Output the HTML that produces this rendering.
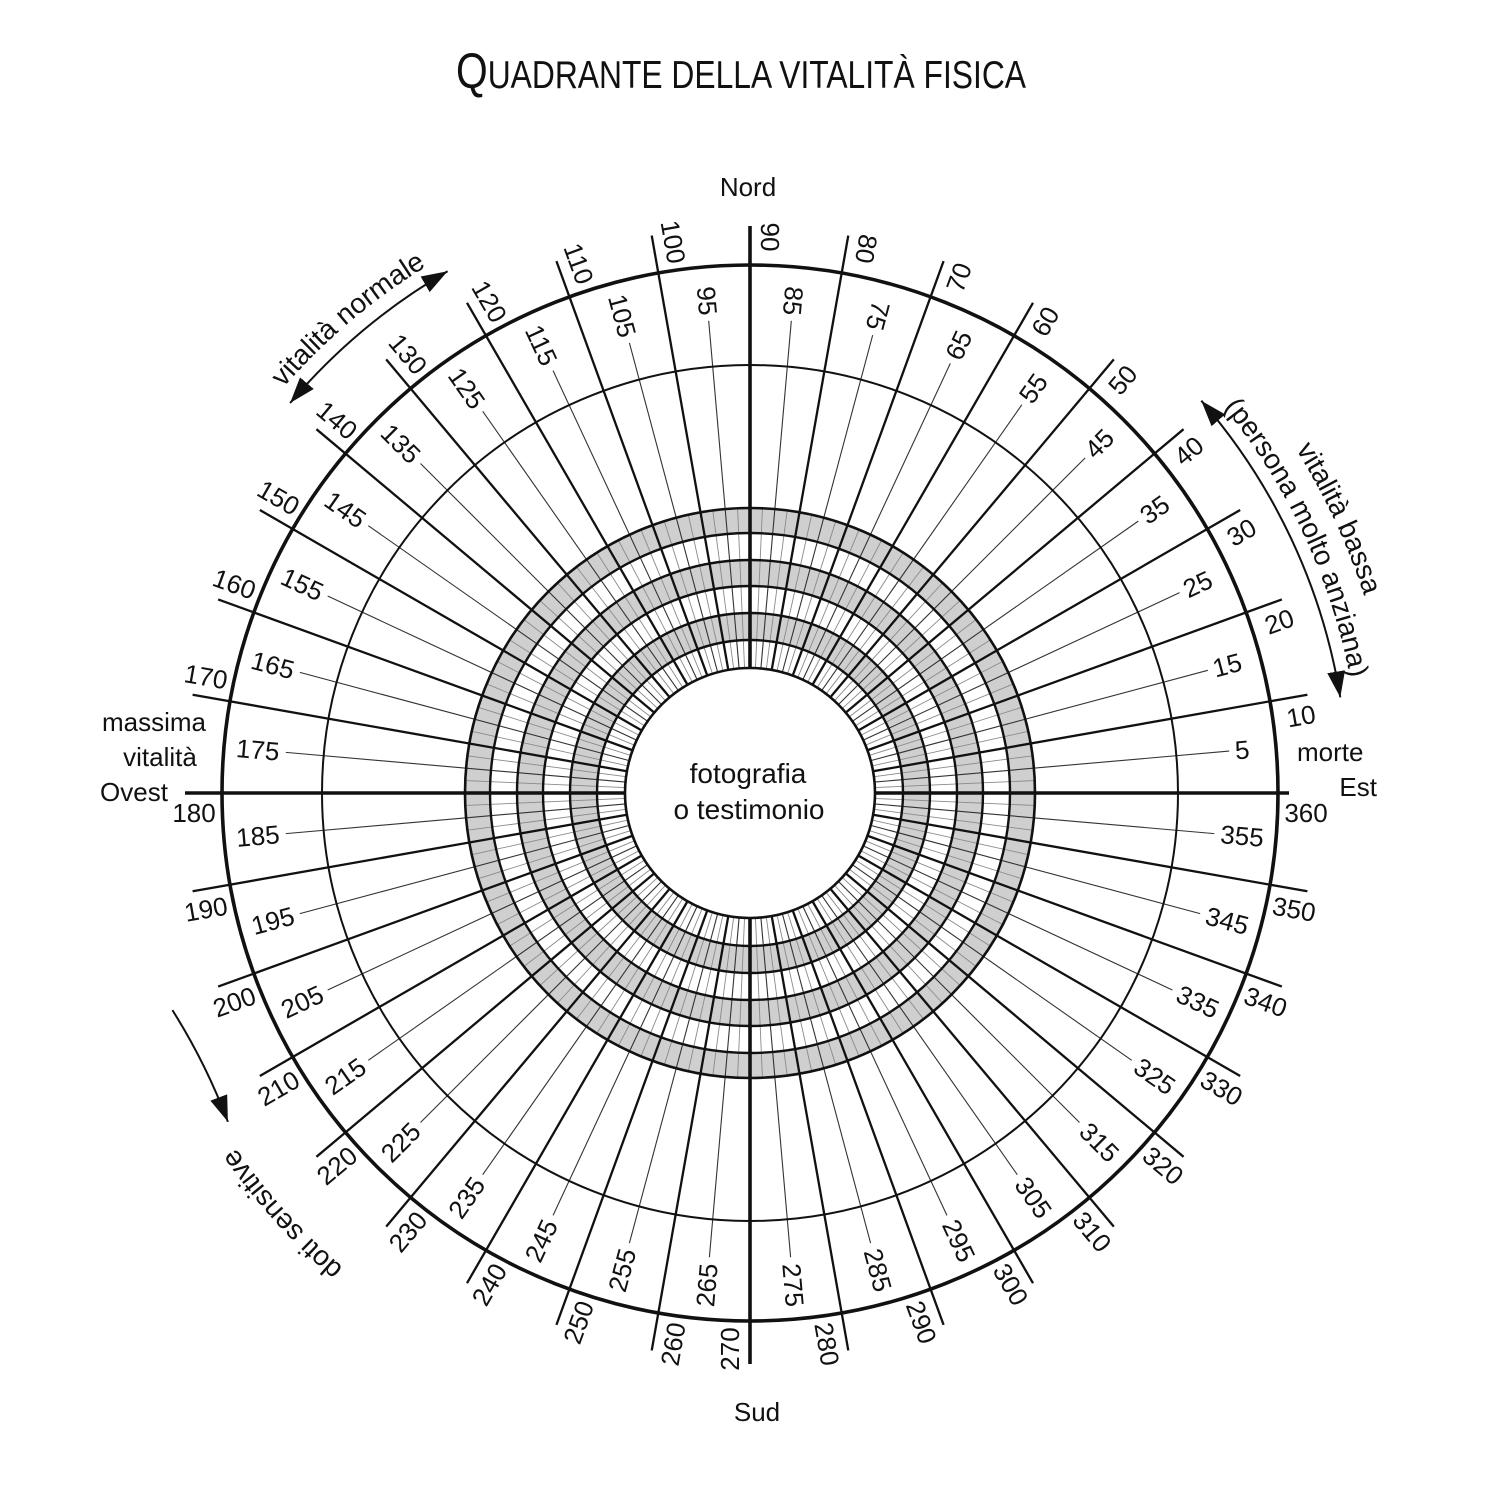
<!DOCTYPE html>
<html><head><meta charset="utf-8"><style>
html,body{margin:0;padding:0;background:#fff;}
svg{display:block;}
text{font-family:"Liberation Sans",Arial,sans-serif;fill:#111;}
.n text{font-size:26px;text-anchor:middle;dominant-baseline:central;}
</style></head><body>
<svg width="1485" height="1485" viewBox="0 0 1485 1485" xmlns="http://www.w3.org/2000/svg">
<defs>
<line id="G" x1="875" y1="793" x2="1035" y2="793" stroke="#8a8a8a" stroke-width="0.9"/>
<line id="T" x1="875" y1="793" x2="1316" y2="793" stroke="#111" stroke-width="2.3"/>
<line id="t1" x1="875" y1="793" x2="1231" y2="793" stroke="#333" stroke-width="1.1"/>
<line id="t2" x1="875" y1="793" x2="1224" y2="793" stroke="#333" stroke-width="1.1"/>
<line id="t3" x1="875" y1="793" x2="1216" y2="793" stroke="#333" stroke-width="1.1"/>
<marker id="ah" markerUnits="userSpaceOnUse" markerWidth="28" markerHeight="20" refX="26" refY="9" orient="auto-start-reverse"><path d="M0,0 L26,9 L0,18 z" fill="#111"/></marker>
<path id="pPers" d="M1008.2 239.3 A611 611 0 0 1 1340.2 951.1"/>
<path id="pBas" d="M1022.6 208.4 A645 645 0 0 1 1373.0 959.9"/>
<path id="pNorm" d="M140.8 688.9 A618 618 0 0 1 746.8 175.0"/>
<path id="pDoti" d="M663.0 1411.9 A625 625 0 0 1 125.4 814.8"/>
</defs>

<text x="456" y="88" font-size="39" textLength="570" lengthAdjust="spacingAndGlyphs"><tspan font-size="50">Q</tspan>UADRANTE DELLA VITALITÀ FISICA</text>

<circle cx="750" cy="793" r="272.5" fill="none" stroke="#cfcfcf" stroke-width="25"/>
<circle cx="750" cy="793" r="220" fill="none" stroke="#cfcfcf" stroke-width="26"/>
<circle cx="750" cy="793" r="166.5" fill="none" stroke="#cfcfcf" stroke-width="27"/>

<g>
<use href="#G" transform="rotate(-2.5 750 793)"/><use href="#G" transform="rotate(-7.5 750 793)"/><use href="#G" transform="rotate(-12.5 750 793)"/><use href="#G" transform="rotate(-17.5 750 793)"/><use href="#G" transform="rotate(-22.5 750 793)"/><use href="#G" transform="rotate(-27.5 750 793)"/><use href="#G" transform="rotate(-32.5 750 793)"/><use href="#G" transform="rotate(-37.5 750 793)"/><use href="#G" transform="rotate(-42.5 750 793)"/><use href="#G" transform="rotate(-47.5 750 793)"/><use href="#G" transform="rotate(-52.5 750 793)"/><use href="#G" transform="rotate(-57.5 750 793)"/><use href="#G" transform="rotate(-62.5 750 793)"/><use href="#G" transform="rotate(-67.5 750 793)"/><use href="#G" transform="rotate(-72.5 750 793)"/><use href="#G" transform="rotate(-77.5 750 793)"/><use href="#G" transform="rotate(-82.5 750 793)"/><use href="#G" transform="rotate(-87.5 750 793)"/><use href="#G" transform="rotate(-92.5 750 793)"/><use href="#G" transform="rotate(-97.5 750 793)"/><use href="#G" transform="rotate(-102.5 750 793)"/><use href="#G" transform="rotate(-107.5 750 793)"/><use href="#G" transform="rotate(-112.5 750 793)"/><use href="#G" transform="rotate(-117.5 750 793)"/><use href="#G" transform="rotate(-122.5 750 793)"/><use href="#G" transform="rotate(-127.5 750 793)"/><use href="#G" transform="rotate(-132.5 750 793)"/><use href="#G" transform="rotate(-137.5 750 793)"/><use href="#G" transform="rotate(-142.5 750 793)"/><use href="#G" transform="rotate(-147.5 750 793)"/><use href="#G" transform="rotate(-152.5 750 793)"/><use href="#G" transform="rotate(-157.5 750 793)"/><use href="#G" transform="rotate(-162.5 750 793)"/><use href="#G" transform="rotate(-167.5 750 793)"/><use href="#G" transform="rotate(-172.5 750 793)"/><use href="#G" transform="rotate(-177.5 750 793)"/><use href="#G" transform="rotate(-182.5 750 793)"/><use href="#G" transform="rotate(-187.5 750 793)"/><use href="#G" transform="rotate(-192.5 750 793)"/><use href="#G" transform="rotate(-197.5 750 793)"/><use href="#G" transform="rotate(-202.5 750 793)"/><use href="#G" transform="rotate(-207.5 750 793)"/><use href="#G" transform="rotate(-212.5 750 793)"/><use href="#G" transform="rotate(-217.5 750 793)"/><use href="#G" transform="rotate(-222.5 750 793)"/><use href="#G" transform="rotate(-227.5 750 793)"/><use href="#G" transform="rotate(-232.5 750 793)"/><use href="#G" transform="rotate(-237.5 750 793)"/><use href="#G" transform="rotate(-242.5 750 793)"/><use href="#G" transform="rotate(-247.5 750 793)"/><use href="#G" transform="rotate(-252.5 750 793)"/><use href="#G" transform="rotate(-257.5 750 793)"/><use href="#G" transform="rotate(-262.5 750 793)"/><use href="#G" transform="rotate(-267.5 750 793)"/><use href="#G" transform="rotate(-272.5 750 793)"/><use href="#G" transform="rotate(-277.5 750 793)"/><use href="#G" transform="rotate(-282.5 750 793)"/><use href="#G" transform="rotate(-287.5 750 793)"/><use href="#G" transform="rotate(-292.5 750 793)"/><use href="#G" transform="rotate(-297.5 750 793)"/><use href="#G" transform="rotate(-302.5 750 793)"/><use href="#G" transform="rotate(-307.5 750 793)"/><use href="#G" transform="rotate(-312.5 750 793)"/><use href="#G" transform="rotate(-317.5 750 793)"/><use href="#G" transform="rotate(-322.5 750 793)"/><use href="#G" transform="rotate(-327.5 750 793)"/><use href="#G" transform="rotate(-332.5 750 793)"/><use href="#G" transform="rotate(-337.5 750 793)"/><use href="#G" transform="rotate(-342.5 750 793)"/><use href="#G" transform="rotate(-347.5 750 793)"/><use href="#G" transform="rotate(-352.5 750 793)"/><use href="#G" transform="rotate(-357.5 750 793)"/>
</g>

<g>
<use href="#t1" transform="rotate(-5 750 793)"/>
<use href="#t2" transform="rotate(-15 750 793)"/><use href="#t2" transform="rotate(-25 750 793)"/><use href="#t2" transform="rotate(-35 750 793)"/><use href="#t2" transform="rotate(-45 750 793)"/><use href="#t2" transform="rotate(-55 750 793)"/><use href="#t2" transform="rotate(-65 750 793)"/><use href="#t2" transform="rotate(-75 750 793)"/><use href="#t2" transform="rotate(-85 750 793)"/><use href="#t2" transform="rotate(-95 750 793)"/>
<use href="#t3" transform="rotate(-105 750 793)"/><use href="#t3" transform="rotate(-115 750 793)"/><use href="#t3" transform="rotate(-125 750 793)"/><use href="#t3" transform="rotate(-135 750 793)"/><use href="#t3" transform="rotate(-145 750 793)"/><use href="#t3" transform="rotate(-155 750 793)"/><use href="#t3" transform="rotate(-165 750 793)"/><use href="#t3" transform="rotate(-175 750 793)"/><use href="#t3" transform="rotate(-185 750 793)"/><use href="#t3" transform="rotate(-195 750 793)"/><use href="#t3" transform="rotate(-205 750 793)"/><use href="#t3" transform="rotate(-215 750 793)"/><use href="#t3" transform="rotate(-225 750 793)"/><use href="#t3" transform="rotate(-235 750 793)"/><use href="#t3" transform="rotate(-245 750 793)"/><use href="#t3" transform="rotate(-255 750 793)"/><use href="#t3" transform="rotate(-265 750 793)"/><use href="#t3" transform="rotate(-275 750 793)"/><use href="#t3" transform="rotate(-285 750 793)"/><use href="#t3" transform="rotate(-295 750 793)"/><use href="#t3" transform="rotate(-305 750 793)"/><use href="#t3" transform="rotate(-315 750 793)"/><use href="#t3" transform="rotate(-325 750 793)"/><use href="#t3" transform="rotate(-335 750 793)"/><use href="#t3" transform="rotate(-345 750 793)"/><use href="#t3" transform="rotate(-355 750 793)"/>
</g>

<g>
<use href="#T" transform="rotate(-10 750 793)"/><use href="#T" transform="rotate(-20 750 793)"/><use href="#T" transform="rotate(-30 750 793)"/><use href="#T" transform="rotate(-40 750 793)"/><use href="#T" transform="rotate(-50 750 793)"/><use href="#T" transform="rotate(-60 750 793)"/><use href="#T" transform="rotate(-70 750 793)"/><use href="#T" transform="rotate(-80 750 793)"/><use href="#T" transform="rotate(-100 750 793)"/><use href="#T" transform="rotate(-110 750 793)"/><use href="#T" transform="rotate(-120 750 793)"/><use href="#T" transform="rotate(-130 750 793)"/><use href="#T" transform="rotate(-140 750 793)"/><use href="#T" transform="rotate(-150 750 793)"/><use href="#T" transform="rotate(-160 750 793)"/><use href="#T" transform="rotate(-170 750 793)"/><use href="#T" transform="rotate(-190 750 793)"/><use href="#T" transform="rotate(-200 750 793)"/><use href="#T" transform="rotate(-210 750 793)"/><use href="#T" transform="rotate(-220 750 793)"/><use href="#T" transform="rotate(-230 750 793)"/><use href="#T" transform="rotate(-240 750 793)"/><use href="#T" transform="rotate(-250 750 793)"/><use href="#T" transform="rotate(-260 750 793)"/><use href="#T" transform="rotate(-280 750 793)"/><use href="#T" transform="rotate(-290 750 793)"/><use href="#T" transform="rotate(-300 750 793)"/><use href="#T" transform="rotate(-310 750 793)"/><use href="#T" transform="rotate(-320 750 793)"/><use href="#T" transform="rotate(-330 750 793)"/><use href="#T" transform="rotate(-340 750 793)"/><use href="#T" transform="rotate(-350 750 793)"/>
</g>
<g stroke="#111" stroke-width="3.6">
<line x1="875" y1="793" x2="1289" y2="793"/>
<line x1="625" y1="793" x2="185" y2="793"/>
<line x1="750" y1="668" x2="750" y2="226"/>
<line x1="750" y1="918" x2="750" y2="1364"/>
</g>

<g fill="none" stroke="#111">
<circle cx="750" cy="793" r="528" stroke-width="3.6"/>
<circle cx="750" cy="793" r="428" stroke-width="2"/>
<circle cx="750" cy="793" r="285" stroke-width="2.6"/>
<circle cx="750" cy="793" r="260" stroke-width="2.4"/>
<circle cx="750" cy="793" r="233" stroke-width="2.4"/>
<circle cx="750" cy="793" r="207" stroke-width="2.4"/>
<circle cx="750" cy="793" r="180" stroke-width="2.4"/>
<circle cx="750" cy="793" r="153" stroke-width="2.4"/>
</g>
<circle cx="750" cy="793" r="125" fill="#fff" stroke="#111" stroke-width="2.6"/>

<text x="748" y="783" font-size="28" text-anchor="middle">fotografia</text>
<text x="749" y="819" font-size="28" text-anchor="middle">o testimonio</text>

<g class="n">
<text transform="rotate(0 750 793) translate(1306 813)">360</text>
<text transform="rotate(-10 750 793) translate(1306 813)">10</text>
<text transform="rotate(-20 750 793) translate(1306 813)">20</text>
<text transform="rotate(-30 750 793) translate(1306 813)">30</text>
<text transform="rotate(-40 750 793) translate(1306 813)">40</text>
<text transform="rotate(-50 750 793) translate(1306 813)">50</text>
<text transform="rotate(-60 750 793) translate(1306 813)">60</text>
<text transform="rotate(-70 750 793) translate(1306 813)">70</text>
<text transform="rotate(-80 750 793) translate(1306 813) rotate(180)">80</text>
<text transform="rotate(-90 750 793) translate(1306 813) rotate(180)">90</text>
<text transform="rotate(-100 750 793) translate(1306 813) rotate(180)">100</text>
<text transform="rotate(-110 750 793) translate(1306 813) rotate(180)">110</text>
<text transform="rotate(-120 750 793) translate(1306 813) rotate(180)">120</text>
<text transform="rotate(-130 750 793) translate(1306 813) rotate(180)">130</text>
<text transform="rotate(-140 750 793) translate(1306 813) rotate(180)">140</text>
<text transform="rotate(-150 750 793) translate(1306 813) rotate(180)">150</text>
<text transform="rotate(-160 750 793) translate(1306 813) rotate(180)">160</text>
<text transform="rotate(-170 750 793) translate(1306 813) rotate(180)">170</text>
<text transform="rotate(-180 750 793) translate(1306 773) rotate(180)">180</text>
<text transform="rotate(-190 750 793) translate(1306 773) rotate(180)">190</text>
<text transform="rotate(-200 750 793) translate(1306 773) rotate(180)">200</text>
<text transform="rotate(-210 750 793) translate(1306 773) rotate(180)">210</text>
<text transform="rotate(-220 750 793) translate(1306 773) rotate(180)">220</text>
<text transform="rotate(-230 750 793) translate(1306 773) rotate(180)">230</text>
<text transform="rotate(-240 750 793) translate(1306 773) rotate(180)">240</text>
<text transform="rotate(-250 750 793) translate(1306 773) rotate(180)">250</text>
<text transform="rotate(-260 750 793) translate(1306 773) rotate(180)">260</text>
<text transform="rotate(-270 750 793) translate(1306 813) rotate(180)">270</text>
<text transform="rotate(-280 750 793) translate(1306 813)">280</text>
<text transform="rotate(-290 750 793) translate(1306 813)">290</text>
<text transform="rotate(-300 750 793) translate(1306 813)">300</text>
<text transform="rotate(-310 750 793) translate(1306 813)">310</text>
<text transform="rotate(-320 750 793) translate(1306 813)">320</text>
<text transform="rotate(-330 750 793) translate(1306 813)">330</text>
<text transform="rotate(-340 750 793) translate(1306 813)">340</text>
<text transform="rotate(-350 750 793) translate(1306 813)">350</text>
</g>

<g class="n">
<text transform="rotate(-5 750 793) translate(1244 793)">5</text>
<text transform="rotate(-15 750 793) translate(1244 793)">15</text>
<text transform="rotate(-25 750 793) translate(1244 793)">25</text>
<text transform="rotate(-35 750 793) translate(1244 793)">35</text>
<text transform="rotate(-45 750 793) translate(1244 793)">45</text>
<text transform="rotate(-55 750 793) translate(1244 793)">55</text>
<text transform="rotate(-65 750 793) translate(1244 793)">65</text>
<text transform="rotate(-75 750 793) translate(1244 793) rotate(180)">75</text>
<text transform="rotate(-85 750 793) translate(1244 793) rotate(180)">85</text>
<text transform="rotate(-95 750 793) translate(1244 793) rotate(180)">95</text>
<text transform="rotate(-105 750 793) translate(1244 793) rotate(180)">105</text>
<text transform="rotate(-115 750 793) translate(1244 793) rotate(180)">115</text>
<text transform="rotate(-125 750 793) translate(1244 793) rotate(180)">125</text>
<text transform="rotate(-135 750 793) translate(1244 793) rotate(180)">135</text>
<text transform="rotate(-145 750 793) translate(1244 793) rotate(180)">145</text>
<text transform="rotate(-155 750 793) translate(1244 793) rotate(180)">155</text>
<text transform="rotate(-165 750 793) translate(1244 793) rotate(180)">165</text>
<text transform="rotate(-175 750 793) translate(1244 793) rotate(180)">175</text>
<text transform="rotate(-185 750 793) translate(1244 793) rotate(180)">185</text>
<text transform="rotate(-195 750 793) translate(1244 793) rotate(180)">195</text>
<text transform="rotate(-205 750 793) translate(1244 793) rotate(180)">205</text>
<text transform="rotate(-215 750 793) translate(1244 793) rotate(180)">215</text>
<text transform="rotate(-225 750 793) translate(1244 793) rotate(180)">225</text>
<text transform="rotate(-235 750 793) translate(1244 793) rotate(180)">235</text>
<text transform="rotate(-245 750 793) translate(1244 793) rotate(180)">245</text>
<text transform="rotate(-255 750 793) translate(1244 793) rotate(180)">255</text>
<text transform="rotate(-265 750 793) translate(1244 793) rotate(180)">265</text>
<text transform="rotate(-275 750 793) translate(1244 793)">275</text>
<text transform="rotate(-285 750 793) translate(1244 793)">285</text>
<text transform="rotate(-295 750 793) translate(1244 793)">295</text>
<text transform="rotate(-305 750 793) translate(1244 793)">305</text>
<text transform="rotate(-315 750 793) translate(1244 793)">315</text>
<text transform="rotate(-325 750 793) translate(1244 793)">325</text>
<text transform="rotate(-335 750 793) translate(1244 793)">335</text>
<text transform="rotate(-345 750 793) translate(1244 793)">345</text>
<text transform="rotate(-355 750 793) translate(1244 793)">355</text>
</g>

<g font-size="26">
<text x="748" y="196" text-anchor="middle">Nord</text>
<text x="757" y="1421" text-anchor="middle">Sud</text>
<text x="154" y="731" text-anchor="middle">massima</text>
<text x="160" y="766" text-anchor="middle">vitalità</text>
<text x="134" y="801" text-anchor="middle">Ovest</text>
<text x="1297" y="761">morte</text>
<text x="1377" y="796" text-anchor="end">Est</text>
</g>

<g fill="none" stroke="#111" stroke-width="2">
<path d="M290.1 403.0 A603 603 0 0 1 447.6 271.3" marker-start="url(#ah)" marker-end="url(#ah)"/>
<path d="M1201.3 400.7 A598 598 0 0 1 1340.3 697.4" marker-start="url(#ah)" marker-end="url(#ah)"/>
<path d="M172.4 1010.1 A617 617 0 0 1 227.9 1121.8" marker-end="url(#ah)"/>
</g>

<g font-size="28">
<text><textPath href="#pNorm" startOffset="50%" text-anchor="middle">vitalità normale</textPath></text>
<text><textPath href="#pPers" startOffset="50%" text-anchor="middle">(persona molto anziana)</textPath></text>
<text><textPath href="#pBas" startOffset="50%" text-anchor="middle">vitalità bassa</textPath></text>
<text><textPath href="#pDoti" startOffset="50%" text-anchor="middle">doti sensitive</textPath></text>
</g>
</svg>
</body></html>
